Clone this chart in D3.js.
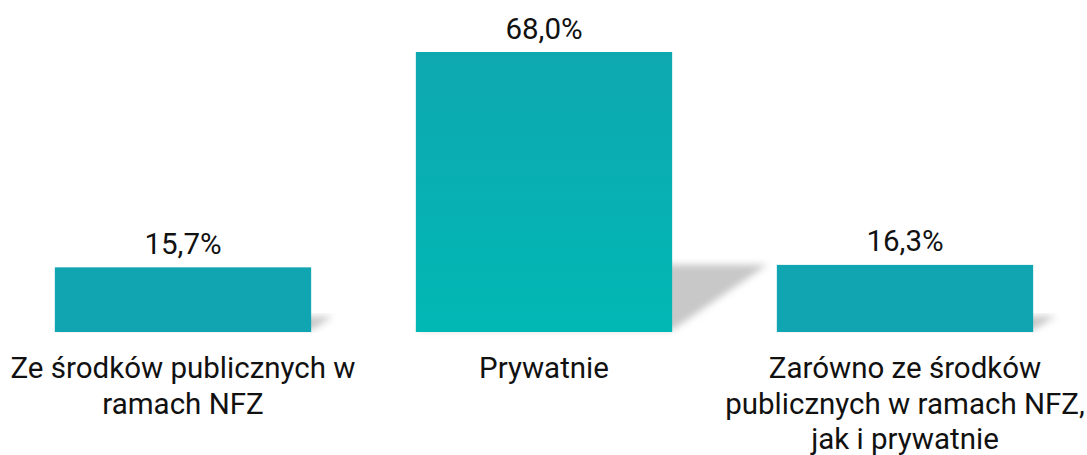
<!DOCTYPE html>
<html><head><meta charset="utf-8">
<script src="https://cdn.jsdelivr.net/npm/d3@7/dist/d3.min.js"></script>
<style>html,body{margin:0;padding:0;background:#fff;} svg{display:block;}</style>
</head><body>
<svg id="chart" width="1087" height="455"></svg>
<script>
const categories = [
  ["Ze środków publicznych w", "ramach NFZ"],
  ["Prywatnie"],
  ["Zarówno ze środków", "publicznych w ramach NFZ,", "jak i prywatnie"]
];
const values = [15.7, 68.0, 16.3];
const valueLabels = ["15,7%", "68,0%", "16,3%"];

const W = 1087, H = 455;
const base = 332;
const svg = d3.select("#chart");
const x = d3.scaleBand().domain(d3.range(values.length)).range([2.5, 1085.5]).paddingInner(0.29).paddingOuter(0.145);
const y = d3.scaleLinear().domain([0, 68]).range([base, 52]);

const defs = svg.append("defs");
const g = defs.append("linearGradient").attr("id","gMid").attr("x1",0).attr("y1",0).attr("x2",0).attr("y2",1);
g.append("stop").attr("offset","0%").attr("stop-color","#0ea8b0");
g.append("stop").attr("offset","100%").attr("stop-color","#01b8b5");
const f = defs.append("filter").attr("id","blur").attr("x","-20%").attr("y","-20%").attr("width","140%").attr("height","140%");
f.append("feGaussianBlur").attr("stdDeviation",3.5);

// shadows
svg.append("g").selectAll("polygon").data(values).join("polygon")
  .attr("points",(d,i)=>{
    const x0 = x(i), x1 = x(i)+x.bandwidth();
    const h = base - y(d);
    const sh = h*0.24, dx = h*0.34;
    return [[x0,base-2],[x1,base-2],[x1+dx,base-sh],[x0+dx,base-sh]].map(p=>p.join(",")).join(" ");
  })
  .attr("fill","#c8c8c8").attr("filter","url(#blur)");

svg.append("g").selectAll("rect").data(values).join("rect")
  .attr("x",(d,i)=>x(i)).attr("width",x.bandwidth())
  .attr("y",d=>y(d)).attr("height",d=>base-y(d))
  .attr("fill",(d,i)=> i===1 ? "url(#gMid)" : "#10a5b0");

svg.append("g").selectAll("text").data(values).join("text")
  .attr("x",(d,i)=>x(i)+x.bandwidth()/2).attr("y",d=>y(d)-13.5)
  .attr("text-anchor","middle").attr("font-family","Roboto").attr("font-size",29.5).attr("fill","#111")
  .text((d,i)=>valueLabels[i]);

const cl = svg.append("g").selectAll("text").data(categories).join("text")
  .attr("text-anchor","middle").attr("font-family","Roboto").attr("font-size",29.5).attr("fill","#111");
cl.each(function(lines,i){
  d3.select(this).selectAll("tspan").data(lines).join("tspan")
    .attr("x", x(i)+x.bandwidth()/2).attr("y",(l,j)=>378+j*35.5).text(l=>l);
});
</script>
</body></html>
